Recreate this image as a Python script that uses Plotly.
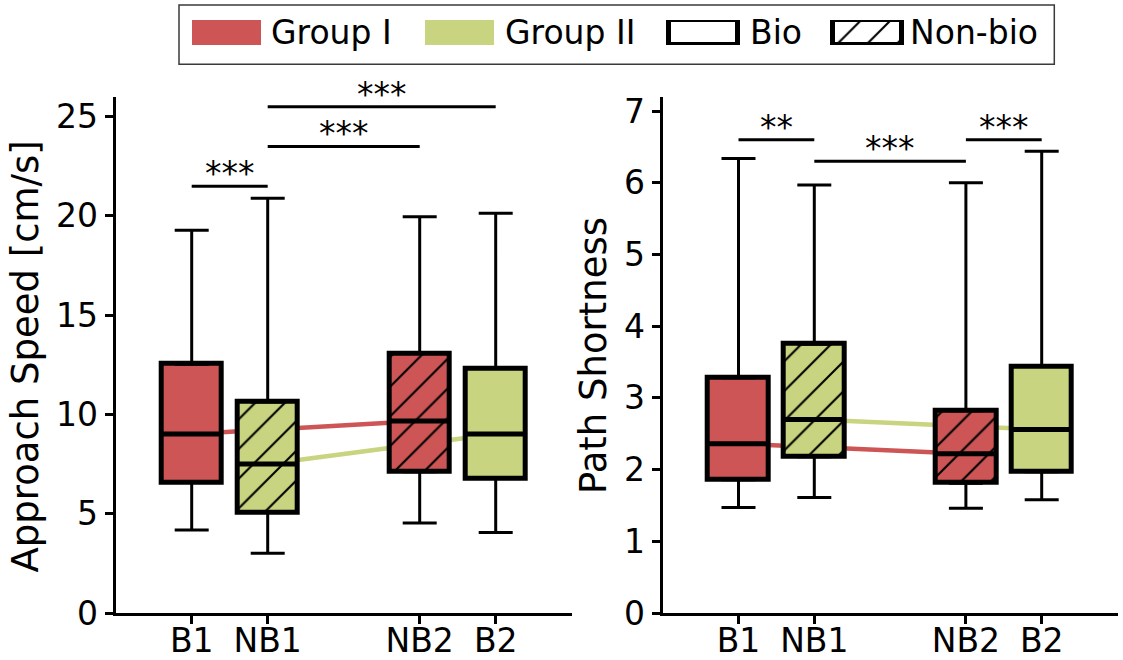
import plotly.graph_objects as go

# ---------------- data ----------------
categories = ["B1", "NB1", "NB2", "B2"]
positions = [0, 1, 3, 4]
group_of = ["Group I", "Group II", "Group I", "Group II"]
hatch_of = ["", "/", "/", ""]

speed_lower = [4.18, 3.01, 4.53, 4.05]
speed_q1 = [6.58, 5.07, 7.12, 6.77]
speed_median = [9.02, 7.51, 9.67, 9.02]
speed_q3 = [12.53, 10.63, 13.08, 12.31]
speed_upper = [19.28, 20.89, 19.96, 20.14]

path_lower = [1.47, 1.61, 1.46, 1.58]
path_q1 = [1.86, 2.18, 1.81, 1.97]
path_median = [2.36, 2.70, 2.22, 2.56]
path_q3 = [3.28, 3.75, 2.82, 3.44]
path_upper = [6.34, 5.97, 6.00, 6.44]

speed_sig_from = ["B1", "NB1", "NB1"]
speed_sig_to = ["NB1", "NB2", "B2"]
speed_sig_y = [21.5, 23.5, 25.5]
speed_sig_text = ["***", "***", "***"]

path_sig_from = ["B1", "NB1", "NB2"]
path_sig_to = ["NB1", "NB2", "B2"]
path_sig_y = [6.6, 6.3, 6.6]
path_sig_text = ["**", "***", "***"]

group_names = ["Group I", "Group II"]
group_colors = ["#CD5555", "#C8D47F"]
legend_labels = ["Group I", "Group II", "Bio", "Non-bio"]
legend_fill = ["#CD5555", "#C8D47F", "white", "white"]
legend_hatch = ["", "", "", "/"]
legend_edge = [0, 0, 5, 5]

speed_ticks = [0, 5, 10, 15, 20, 25]
path_ticks = [0, 1, 2, 3, 4, 5, 6, 7]

# ---------------- layout helpers ----------------
W, H = 1123, 660
FONT = "DejaVu Sans"
TICK_SIZE = 33
TITLE_SIZE = 37
color_map = dict(zip(group_names, group_colors))
pos_of = dict(zip(categories, positions))


def px_x(p):
    return p / W


def px_y(p):
    return 1 - p / H


def hatch_pattern(shape, fill):
    return dict(shape=shape, fillmode="overlay", bgcolor=fill,
                fgcolor="black", fgopacity=1, size=21, solidity=0.1)


fig = go.Figure()


def add_panel(xa, ya, lower, q1, med, q3, upper, sfrom, sto, sy, stext):
    # lines connecting medians of the same group (below the boxes)
    for g, col in zip(group_names, group_colors):
        idx = [i for i, gg in enumerate(group_of) if gg == g]
        for i, j in zip(idx[:-1], idx[1:]):
            fig.add_shape(type="line", xref=xa, yref=ya, layer="below",
                          x0=positions[i], y0=med[i], x1=positions[j], y1=med[j],
                          line=dict(color=col, width=4.5))
    # box bodies, one trace per box
    for i in range(len(categories)):
        fill = color_map[group_of[i]]
        fig.add_trace(go.Bar(
            x=[positions[i]], y=[q3[i] - q1[i]], base=[q1[i]], width=0.8,
            marker=dict(color=fill, line=dict(color="black", width=5),
                        pattern=hatch_pattern(hatch_of[i], fill)),
            xaxis=xa, yaxis=ya, showlegend=False, hoverinfo="skip"))
    # upper whiskers
    fig.add_trace(go.Scatter(
        x=positions, y=q3, mode="markers", marker=dict(size=1, opacity=0),
        error_y=dict(type="data", symmetric=False,
                     array=[u - t for u, t in zip(upper, q3)],
                     arrayminus=[0] * len(q3),
                     color="black", thickness=3, width=17),
        xaxis=xa, yaxis=ya, showlegend=False, hoverinfo="skip"))
    # lower whiskers
    fig.add_trace(go.Scatter(
        x=positions, y=q1, mode="markers", marker=dict(size=1, opacity=0),
        error_y=dict(type="data", symmetric=False,
                     array=[0] * len(q1),
                     arrayminus=[b - l for b, l in zip(q1, lower)],
                     color="black", thickness=3, width=17),
        xaxis=xa, yaxis=ya, showlegend=False, hoverinfo="skip"))
    # medians
    fig.add_trace(go.Scatter(
        x=positions, y=med, mode="markers", marker=dict(size=1, opacity=0),
        error_x=dict(type="constant", value=0.4, color="black",
                     thickness=5, width=0),
        xaxis=xa, yaxis=ya, showlegend=False, hoverinfo="skip"))
    # significance bars
    for a, b, h, t in zip(sfrom, sto, sy, stext):
        fig.add_trace(go.Scatter(
            x=[pos_of[a], pos_of[b]], y=[h, h], mode="lines",
            line=dict(color="black", width=3),
            xaxis=xa, yaxis=ya, showlegend=False, hoverinfo="skip"))
        fig.add_annotation(
            x=(pos_of[a] + pos_of[b]) / 2, y=h, xref=xa, yref=ya,
            text=t, showarrow=False, yanchor="bottom", yshift=-9,
            font=dict(family=FONT, size=TICK_SIZE, color="black"))


add_panel("x", "y", speed_lower, speed_q1, speed_median, speed_q3, speed_upper,
          speed_sig_from, speed_sig_to, speed_sig_y, speed_sig_text)
add_panel("x2", "y2", path_lower, path_q1, path_median, path_q3, path_upper,
          path_sig_from, path_sig_to, path_sig_y, path_sig_text)

# legend patches (drawn in an invisible pixel-scaled subplot)
legend_centers = [226.2, 459.5, 703.0, 867.3]
legend_text_x = [269, 503, 748, 908]
for c, fill, hatch, edge in zip(legend_centers, legend_fill, legend_hatch, legend_edge):
    fig.add_trace(go.Bar(
        x=[c], y=[1], base=[0], width=69,
        marker=dict(color=fill, line=dict(color="black", width=edge),
                    pattern=hatch_pattern(hatch, fill)),
        xaxis="x3", yaxis="y3", showlegend=False, hoverinfo="skip"))
for lab, tx in zip(legend_labels, legend_text_x):
    fig.add_annotation(x=px_x(tx), y=px_y(32.5), xref="paper", yref="paper",
                       text=lab, showarrow=False, xanchor="left", yanchor="middle",
                       font=dict(family=FONT, size=TICK_SIZE, color="black"))
fig.add_shape(type="rect", xref="paper", yref="paper",
              x0=px_x(179), x1=px_x(1054.3), y0=px_y(64.3), y1=px_y(5),
              line=dict(color="#3a3a3a", width=1.5), fillcolor="rgba(0,0,0,0)")

# y-axis titles
fig.add_annotation(x=px_x(24.5), y=px_y(357), xref="paper", yref="paper",
                   text="Approach Speed [cm/s]", textangle=-90, showarrow=False,
                   xanchor="center", yanchor="middle",
                   font=dict(family=FONT, size=TITLE_SIZE, color="black"))
fig.add_annotation(x=px_x(593), y=px_y(356), xref="paper", yref="paper",
                   text="Path Shortness", textangle=-90, showarrow=False,
                   xanchor="center", yanchor="middle",
                   font=dict(family=FONT, size=TITLE_SIZE, color="black"))

axis_common = dict(showline=True, linecolor="black", linewidth=3,
                   ticks="outside", ticklen=8, tickwidth=3, tickcolor="black",
                   showgrid=False, zeroline=False, automargin=False,
                   tickfont=dict(family=FONT, size=TICK_SIZE, color="black"))

y_dom = [px_y(613), px_y(96.8)]
fig.update_layout(
    width=W, height=H, margin=dict(l=0, r=0, t=0, b=0, autoexpand=False),
    paper_bgcolor="white", plot_bgcolor="rgba(0,0,0,0)", showlegend=False,
    font=dict(family=FONT, color="black"), barmode="overlay", bargap=0,
    xaxis=dict(axis_common, domain=[px_x(115.7), px_x(571.7)], range=[-1, 5],
               tickvals=positions, ticktext=categories, anchor="y",
               ticklabelstandoff=-12),
    yaxis=dict(axis_common, domain=y_dom, range=[0, 26], tickvals=speed_ticks,
               anchor="x"),
    xaxis2=dict(axis_common, domain=[px_x(662.7), px_x(1117.5)], range=[-1, 5],
                tickvals=positions, ticktext=categories, anchor="y2",
                ticklabelstandoff=-12),
    yaxis2=dict(axis_common, domain=y_dom, range=[0, 7.2], tickvals=path_ticks,
                anchor="x2"),
    xaxis3=dict(domain=[0, 1], range=[0, W], visible=False, anchor="y3",
                fixedrange=True, automargin=False),
    yaxis3=dict(domain=[px_y(45), px_y(20)], range=[0, 1], visible=False,
                anchor="x3", fixedrange=True, automargin=False),
)

fig.write_html("out.html",
               config={"displayModeBar": False},
               post_script="document.body.style.margin='0px';"
                           "document.body.style.overflow='hidden';")
